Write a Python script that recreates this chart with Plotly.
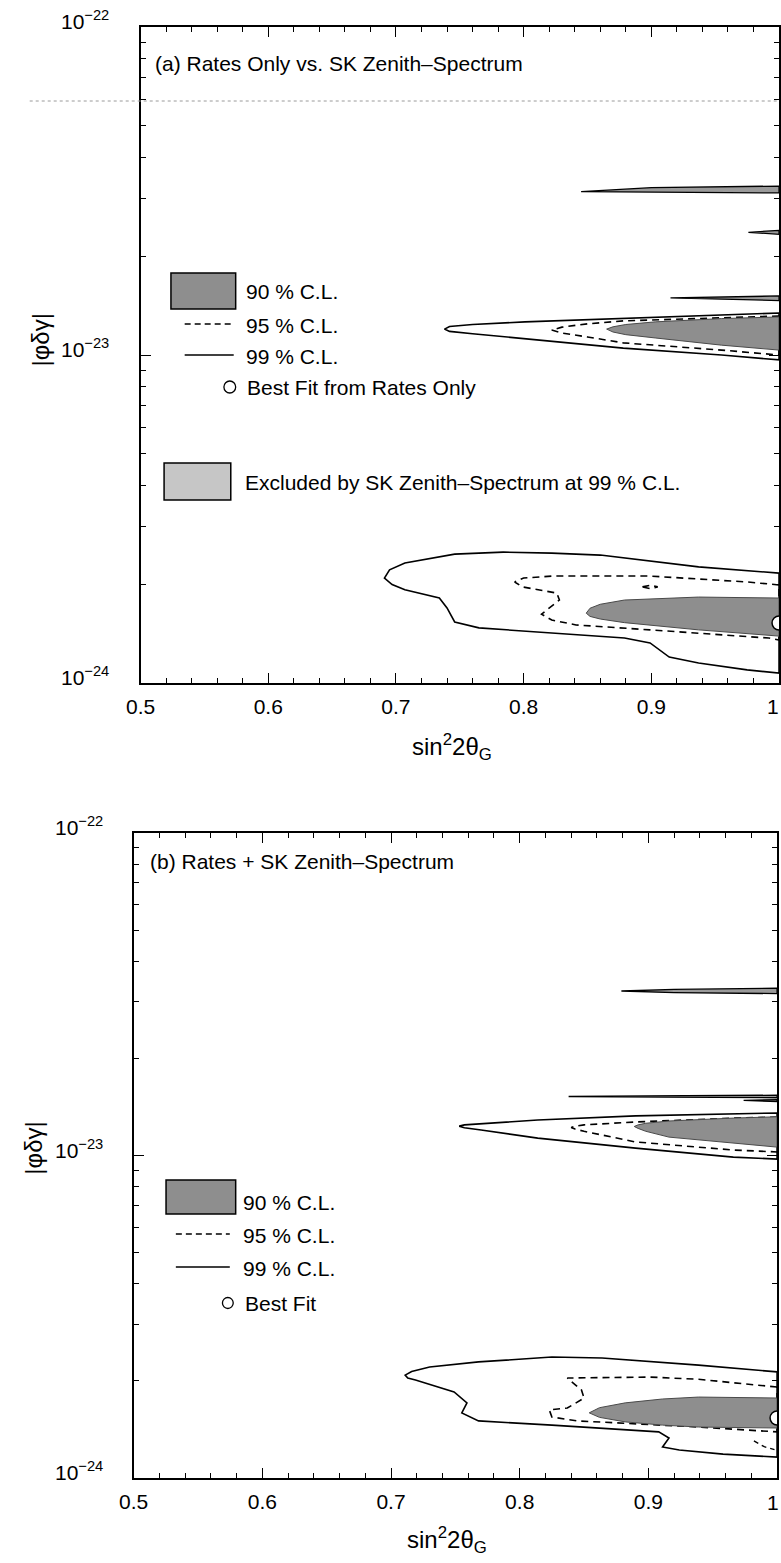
import plotly.graph_objects as go

W, H = 781, 1563
FONT = "Liberation Sans, Arial, sans-serif"
FS = 21
GRAY90 = "#8e8e8e"
GRAY_EXCL = "#c6c6c6"

# ---------------- data: x = sin^2(2θ_G), ly = log10|φδγ| ----------------
# Panel (a): upper island near 1e-23
A_UP_99_X = [1.0, 0.955, 0.878, 0.801, 0.760, 0.742, 0.738, 0.742, 0.760, 0.801, 0.878, 0.955, 1.0]
A_UP_99_LY = [-22.872, -22.878, -22.887, -22.899, -22.907, -22.913, -22.921, -22.928, -22.935, -22.951, -22.979, -23.000, -23.015]
A_UP_95_X = [1.0, 0.955, 0.878, 0.850, 0.830, 0.822, 0.830, 0.850, 0.878, 0.955, 1.0]
A_UP_95_LY = [-22.881, -22.887, -22.896, -22.905, -22.915, -22.924, -22.933, -22.945, -22.963, -22.985, -23.000]
A_UP_90_X = [1.0, 0.955, 0.903, 0.880, 0.870, 0.865, 0.870, 0.880, 0.903, 0.955, 1.0]
A_UP_90_LY = [-22.884, -22.889, -22.899, -22.907, -22.914, -22.921, -22.930, -22.938, -22.948, -22.970, -22.985]
# Panel (a): thin slivers
A_S1_X = [1.0, 0.90, 0.845, 0.90, 1.0]
A_S1_LY = [-22.485, -22.490, -22.502, -22.504, -22.506]
A_S2_X = [1.0, 0.976, 1.0]
A_S2_LY = [-22.620, -22.626, -22.632]
A_S3_X = [1.0, 0.915, 1.0]
A_S3_LY = [-22.820, -22.826, -22.834]
# Panel (a): lower island near 1.5e-24
A_LO_99_X = [1.0, 0.937, 0.860, 0.822, 0.784, 0.746, 0.707, 0.695, 0.691, 0.697, 0.707, 0.734,
             0.740, 0.746, 0.765, 0.822, 0.879, 0.899, 0.906, 0.914, 0.937, 0.975, 1.0]
A_LO_99_LY = [-23.665, -23.646, -23.610, -23.604, -23.601, -23.607, -23.634, -23.655, -23.680, -23.700,
              -23.716, -23.741, -23.771, -23.814, -23.832, -23.848, -23.863, -23.878, -23.898, -23.921,
              -23.939, -23.960, -23.970]
A_LO_95_X = [1.0, 0.975, 0.899, 0.822, 0.800, 0.793, 0.799, 0.826, 0.828, 0.818, 0.814, 0.822,
             0.841, 0.899, 0.955, 0.992, 1.0]
A_LO_95_LY = [-23.701, -23.692, -23.674, -23.674, -23.680, -23.692, -23.707, -23.726, -23.747, -23.777,
              -23.790, -23.808, -23.823, -23.838, -23.854, -23.863, -23.869]
A_LO_90_X = [1.0, 0.937, 0.879, 0.860, 0.852, 0.849, 0.852, 0.860, 0.879, 0.937, 1.0]
A_LO_90_LY = [-23.741, -23.738, -23.747, -23.760, -23.772, -23.787, -23.797, -23.805, -23.816, -23.838, -23.857]
A_ISLAND_X = [0.893, 0.899, 0.905, 0.899]
A_ISLAND_LY = [-23.707, -23.702, -23.707, -23.712]
A_BEST_X = [1.0]
A_BEST_LY = [-23.817]

# Panel (b): upper island
B_UP_99_X = [1.0, 0.966, 0.890, 0.814, 0.770, 0.757, 0.753, 0.757, 0.770, 0.814, 0.890, 0.966, 1.0]
B_UP_99_LY = [-22.868, -22.871, -22.877, -22.890, -22.900, -22.905, -22.909, -22.914, -22.921, -22.946, -22.977, -23.005, -23.011]
B_UP_95_X = [1.0, 0.966, 0.890, 0.850, 0.843, 0.840, 0.843, 0.850, 0.890, 0.966, 1.0]
B_UP_95_LY = [-22.881, -22.884, -22.896, -22.905, -22.909, -22.913, -22.918, -22.925, -22.958, -22.983, -22.989]
B_UP_90_X = [1.0, 0.966, 0.916, 0.898, 0.892, 0.889, 0.892, 0.898, 0.916, 0.966, 1.0]
B_UP_90_LY = [-22.880, -22.884, -22.893, -22.900, -22.905, -22.910, -22.916, -22.925, -22.943, -22.961, -22.974]
# Panel (b): thin slivers
B_S1_X = [1.0, 0.92, 0.879, 0.92, 1.0]
B_S1_LY = [-22.481, -22.485, -22.490, -22.495, -22.498]
B_S2_X = [1.0, 0.838, 1.0]
B_S2_LY = [-22.813, -22.817, -22.821]
B_S3_X = [1.0, 0.974, 1.0]
B_S3_LY = [-22.827, -22.829, -22.833]
# Panel (b): lower island
B_LO_99_X = [1.0, 0.939, 0.864, 0.825, 0.768, 0.730, 0.716, 0.711, 0.713, 0.719, 0.749, 0.759, 0.755,
             0.768, 0.825, 0.882, 0.908, 0.916, 0.911, 0.924, 0.958, 1.0]
B_LO_99_LY = [-23.671, -23.650, -23.628, -23.625, -23.640, -23.656, -23.670, -23.681, -23.690, -23.696,
              -23.733, -23.767, -23.798, -23.823, -23.836, -23.852, -23.857, -23.876, -23.904, -23.913,
              -23.926, -23.935]
B_LO_95_X = [1.0, 0.939, 0.901, 0.837, 0.848, 0.850, 0.837, 0.823, 0.825, 0.845, 0.939, 1.0]
B_LO_95_LY = [-23.718, -23.694, -23.687, -23.690, -23.727, -23.752, -23.783, -23.789, -23.811, -23.823, -23.842, -23.857]
B_LO_90_X = [1.0, 0.939, 0.911, 0.882, 0.862, 0.854, 0.862, 0.882, 0.911, 0.939, 1.0]
B_LO_90_LY = [-23.752, -23.749, -23.755, -23.767, -23.782, -23.798, -23.812, -23.826, -23.836, -23.842, -23.845]
B_ARC_X = [0.982, 0.990, 0.998]
B_ARC_LY = [-23.885, -23.903, -23.912]
B_BEST_X = [1.0]
B_BEST_LY = [-23.814]

# ticks / labels
X_TICKS = [0.5, 0.6, 0.7, 0.8, 0.9, 1.0]
X_TICK_TEXT = ["0.5", "0.6", "0.7", "0.8", "0.9", "1"]
Y_DECADES = [-24, -23, -22]
Y_TICK_TEXT = ["10<sup>−24</sup>", "10<sup>−23</sup>", "10<sup>−22</sup>"]
Y_MINOR = [k * 10.0 ** e for e in (-24, -23) for k in range(2, 10)]

X_TITLE = "sin<sup>2</sup>2θ<sub>G</sub>"
Y_TITLE = "|φδγ|"

# ---------------- helpers ----------------
def pxx(x):
    return x / W


def pyy(y):
    return 1 - y / H


fig = go.Figure()


def closed(xs, lys):
    X = list(xs) + [xs[0]]
    Y = [10 ** v for v in lys] + [10 ** lys[0]]
    return X, Y


def add_region(xs, lys, kind, xa, ya):
    X, Y = closed(xs, lys)
    common = dict(x=X, y=Y, mode="lines", xaxis=xa, yaxis=ya, hoverinfo="skip", showlegend=False)
    if kind == "90":
        fig.add_trace(go.Scatter(fill="toself", fillcolor=GRAY90,
                                 line=dict(color="#4a4a4a", width=1), **common))
    elif kind == "95":
        fig.add_trace(go.Scatter(line=dict(color="black", width=1.6, dash="7px,5px"), **common))
    elif kind == "99":
        fig.add_trace(go.Scatter(line=dict(color="black", width=1.6), **common))
    elif kind == "sliver":
        fig.add_trace(go.Scatter(fill="toself", fillcolor="#9a9a9a",
                                 line=dict(color="black", width=1.3), **common))


def add_best(xs, lys, xa, ya):
    fig.add_trace(go.Scatter(x=xs, y=[10 ** v for v in lys], mode="markers", xaxis=xa, yaxis=ya,
                             cliponaxis=True, hoverinfo="skip", showlegend=False,
                             marker=dict(symbol="circle", size=14, color="white",
                                         line=dict(color="black", width=1.5))))


# Panel (a)
for xs, lys, k in [(A_UP_99_X, A_UP_99_LY, "99"), (A_UP_95_X, A_UP_95_LY, "95"), (A_UP_90_X, A_UP_90_LY, "90"),
                   (A_LO_99_X, A_LO_99_LY, "99"), (A_LO_95_X, A_LO_95_LY, "95"), (A_LO_90_X, A_LO_90_LY, "90"),
                   (A_ISLAND_X, A_ISLAND_LY, "95"),
                   (A_S1_X, A_S1_LY, "sliver"), (A_S2_X, A_S2_LY, "sliver"), (A_S3_X, A_S3_LY, "sliver")]:
    add_region(xs, lys, k, "x", "y")
add_best(A_BEST_X, A_BEST_LY, "x", "y")

# Panel (b)
for xs, lys, k in [(B_UP_99_X, B_UP_99_LY, "99"), (B_UP_95_X, B_UP_95_LY, "95"), (B_UP_90_X, B_UP_90_LY, "90"),
                   (B_LO_99_X, B_LO_99_LY, "99"), (B_LO_95_X, B_LO_95_LY, "95"), (B_LO_90_X, B_LO_90_LY, "90"),
                   (B_S1_X, B_S1_LY, "sliver"), (B_S2_X, B_S2_LY, "sliver"), (B_S3_X, B_S3_LY, "sliver")]:
    add_region(xs, lys, k, "x2", "y2")
fig.add_trace(go.Scatter(x=B_ARC_X, y=[10 ** v for v in B_ARC_LY], mode="lines", xaxis="x2", yaxis="y2",
                         hoverinfo="skip", showlegend=False,
                         line=dict(color="black", width=1.4, dash="5px,4px")))
add_best(B_BEST_X, B_BEST_LY, "x2", "y2")


def xaxis_cfg(domain, anchor):
    # the final label ("1") sits on the page edge; it is drawn as an annotation below
    return dict(domain=domain, anchor=anchor, range=[0.5, 1.0], tickmode="array",
                tickvals=X_TICKS, ticktext=X_TICK_TEXT[:-1] + [""], ticks="inside", ticklen=10,
                tickwidth=1.4, tickcolor="black", showline=True, linecolor="black", linewidth=2,
                mirror="ticks", showgrid=False, zeroline=False, ticklabelstandoff=4,
                tickfont=dict(family=FONT, size=FS, color="black"),
                minor=dict(ticks="inside", ticklen=5, tickwidth=1, tickcolor="black",
                           dtick=0.02, tick0=0.5, showgrid=False))


def yaxis_cfg(domain, anchor):
    return dict(domain=domain, anchor=anchor, type="log", range=[-24, -22], tickmode="array",
                tickvals=[10.0 ** d for d in Y_DECADES], showticklabels=False,
                ticks="inside", ticklen=10, tickwidth=1.4, tickcolor="black",
                showline=True, linecolor="black", linewidth=2, mirror="ticks",
                showgrid=False, zeroline=False,
                minor=dict(ticks="inside", ticklen=5, tickwidth=1, tickcolor="black",
                           tickvals=Y_MINOR, showgrid=False))


PANELS = [
    dict(xdom=[pxx(128), pxx(779)], ydom=[pyy(683), pyy(27)], lab_y=706),
    dict(xdom=[pxx(121), pxx(777)], ydom=[pyy(1478), pyy(833)], lab_y=1502),
]

fig.update_layout(
    width=W, height=H, margin=dict(l=0, r=0, t=0, b=0),
    paper_bgcolor="white", plot_bgcolor="white", showlegend=False,
    xaxis=xaxis_cfg(PANELS[0]["xdom"], "y"),
    yaxis=yaxis_cfg(PANELS[0]["ydom"], "x"),
    xaxis2=xaxis_cfg(PANELS[1]["xdom"], "y2"),
    yaxis2=yaxis_cfg(PANELS[1]["ydom"], "x2"),
)

ann = []
shapes = []
TF = dict(family=FONT, size=FS, color="black")

# last x tick label, kept inside the page
for p in PANELS:
    ann.append(dict(text=X_TICK_TEXT[-1], xref="paper", yref="paper", x=1.0, y=pyy(p["lab_y"]),
                    xanchor="right", yanchor="middle", showarrow=False, font=TF))

# y tick labels
for yref, xr in [("y", 98), ("y2", 92)]:
    for d, t in zip(Y_DECADES, Y_TICK_TEXT):
        ann.append(dict(text=t, xref="paper", yref=yref, x=pxx(xr), y=d, xanchor="right",
                        yanchor="middle", yshift=7, showarrow=False, font=TF))

# axis titles
for cx, cy in [(446, 747), (440, 1540)]:
    ann.append(dict(text=X_TITLE, xref="paper", yref="paper", x=pxx(cx), y=pyy(cy),
                    xanchor="center", yanchor="middle", showarrow=False,
                    font=dict(family=FONT, size=24, color="black")))
for cx, cy in [(25, 340), (18, 1148)]:
    ann.append(dict(text=Y_TITLE, xref="paper", yref="paper", x=pxx(cx), y=pyy(cy), textangle=-90,
                    xanchor="center", yanchor="middle", showarrow=False,
                    font=dict(family=FONT, size=24, color="black")))


def label(text, x, y):
    ann.append(dict(text=text, xref="paper", yref="paper", x=pxx(x), y=pyy(y),
                    xanchor="left", yanchor="middle", showarrow=False, font=TF))


def rect(x0, y0, x1, y1, fill):
    shapes.append(dict(type="rect", xref="paper", yref="paper", x0=pxx(x0), x1=pxx(x1),
                       y0=pyy(y1), y1=pyy(y0), fillcolor=fill, line=dict(color="black", width=1.5)))


def hline(x0, x1, y, dash=None):
    ln = dict(color="black", width=1.5)
    if dash:
        ln["dash"] = dash
    shapes.append(dict(type="line", xref="paper", yref="paper", x0=pxx(x0), x1=pxx(x1),
                       y0=pyy(y), y1=pyy(y), line=ln))


def circ(cx, cy, r):
    shapes.append(dict(type="circle", xref="paper", yref="paper", x0=pxx(cx - r), x1=pxx(cx + r),
                       y0=pyy(cy + r), y1=pyy(cy - r), fillcolor="white",
                       line=dict(color="black", width=1.3)))


# Panel (a) text + legend
label("(a) Rates Only vs. SK Zenith–Spectrum", 141, 63)
rect(159, 273, 225, 309, GRAY90)
label("90 % C.L.", 233, 292)
hline(173, 223, 324, "6px,4px")
label("95 % C.L.", 233, 325)
hline(173, 223, 355)
label("99 % C.L.", 233, 356)
circ(219, 387, 6)
label("Best Fit from Rates Only", 235, 387)
rect(152, 463, 220, 500, GRAY_EXCL)
label("Excluded by SK Zenith–Spectrum at 99 % C.L.", 232, 482)

# scan artefact: faint dotted rule across panel (a)
shapes.append(dict(type="line", xref="paper", yref="paper", x0=pxx(15), x1=pxx(779),
                   y0=pyy(101), y1=pyy(101), line=dict(color="#9a9a9a", width=1, dash="dot")))

# Panel (b) text + legend
label("(b) Rates + SK Zenith–Spectrum", 136, 861)
rect(154, 1180, 225, 1214, GRAY90)
label("90 % C.L.", 230, 1202)
hline(164, 219, 1234, "6px,4px")
label("95 % C.L.", 230, 1235)
hline(164, 219, 1267)
label("99 % C.L.", 230, 1268)
circ(217, 1303, 5.5)
label("Best Fit", 232, 1303)

fig.update_layout(annotations=ann, shapes=shapes)
fig.write_html(
    "out.html",
    config={"displayModeBar": False},
    post_script="document.documentElement.style.margin='0';document.body.style.margin='0';"
                "document.body.style.padding='0';document.body.style.overflow='hidden';",
)
